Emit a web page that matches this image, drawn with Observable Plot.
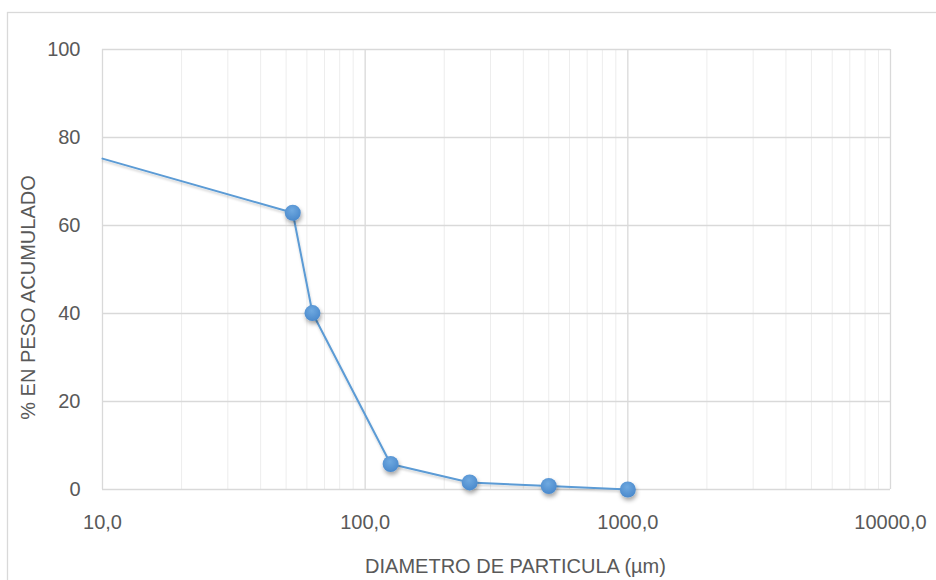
<!DOCTYPE html>
<html>
<head>
<meta charset="utf-8">
<script src="https://cdn.jsdelivr.net/npm/d3@7"></script>
<script src="https://cdn.jsdelivr.net/npm/@observablehq/plot@0.6"></script>
<style>
  html, body { margin: 0; padding: 0; background: #fff; }
  #chart { width: 936px; height: 580px; overflow: hidden; }
</style>
</head>
<body>
<div id="chart"></div>
<script>
// Granulometría: diámetro de partícula (µm) vs % en peso acumulado
const diametro = [10, 53, 63, 125, 250, 500, 1000];
const acumulado = [75.2, 62.9, 40.1, 5.8, 1.6, 0.8, 0];
// the curve enters the frame at 10 µm; markers only on sieve sizes
const conMarcador = [false, true, true, true, true, true, true];

const xTicks = [10, 100, 1000, 10000];
const yTicks = [0, 20, 40, 60, 80, 100];
const xTitle = "DIAMETRO DE PARTICULA (µm)";
const yTitle = "% EN PESO ACUMULADO";

const data = diametro.map((d, i) => ({d, p: acumulado[i], m: conMarcador[i]}));
const xDomain = [10, 10000];
const minorX = d3.scaleLog().domain(xDomain).ticks().filter(v => !xTicks.includes(v));

const fmt = v => v.toFixed(1).replace(".", ",");
const ink = "#595959";

const chart = Plot.plot({
  width: 936,
  height: 580,
  marginLeft: 102,
  marginRight: 46,
  marginTop: 49,
  marginBottom: 91,
  style: {fontFamily: "'Liberation Sans', Arial, sans-serif", fontSize: "20px", color: ink, background: "#fff"},
  x: {type: "log", domain: xDomain},
  y: {domain: [0, 100]},
  marks: [
    Plot.ruleX(minorX, {stroke: "#ededed", strokeWidth: 1}),
    Plot.ruleX(xTicks, {stroke: "#d9d9d9", strokeWidth: 1.3}),
    Plot.ruleY(yTicks, {stroke: "#d9d9d9", strokeWidth: 1.3}),
    Plot.axisX(xTicks, {tickSize: 0, tickPadding: 25, tickFormat: fmt, label: null, fill: ink, fontSize: 20}),
    Plot.axisY(yTicks, {tickSize: 0, tickPadding: 22, label: null, fill: ink, fontSize: 20}),
    Plot.line(data, {x: "d", y: "p", stroke: "#5b9bd5", strokeWidth: 2}),
    Plot.dot(data.filter(r => r.m), {x: "d", y: "p", r: 8, fill: "#5b9bd5", stroke: "none"}),
    Plot.text([xTitle], {frameAnchor: "bottom", textAnchor: "middle", lineAnchor: "middle", dx: 19, dy: 77, fill: ink, fontSize: 20}),
    Plot.text([yTitle], {frameAnchor: "left", textAnchor: "middle", lineAnchor: "middle", rotate: -90, dx: -74, dy: 28, fill: ink, fontSize: 20})
  ]
});

// shading for the line and markers
const svg = d3.select(chart);
const defs = svg.insert("defs", ":first-child");
const grad = defs.append("radialGradient").attr("id", "marker-fill")
  .attr("cx", "45%").attr("cy", "35%").attr("r", "65%");
grad.append("stop").attr("offset", "0%").attr("stop-color", "#6fa9e0");
grad.append("stop").attr("offset", "100%").attr("stop-color", "#4a89cc");
const sh = defs.append("filter").attr("id", "marker-shadow")
  .attr("x", "-50%").attr("y", "-50%").attr("width", "200%").attr("height", "200%");
sh.append("feDropShadow").attr("dx", 1).attr("dy", 3).attr("stdDeviation", 2)
  .attr("flood-color", "#000").attr("flood-opacity", 0.35);
const shl = defs.append("filter").attr("id", "line-shadow")
  .attr("x", "-10%").attr("y", "-10%").attr("width", "120%").attr("height", "130%");
shl.append("feDropShadow").attr("dx", 0.5).attr("dy", 2).attr("stdDeviation", 1.2)
  .attr("flood-color", "#000").attr("flood-opacity", 0.18);

svg.selectAll('g[aria-label="dot"] circle').attr("fill", "url(#marker-fill)");
svg.select('g[aria-label="dot"]').attr("filter", "url(#marker-shadow)");
svg.select('g[aria-label="line"]').attr("filter", "url(#line-shadow)");

// chart area border
svg.append("rect")
  .attr("x", 7.5).attr("y", 12.5).attr("width", 960).attr("height", 600)
  .attr("fill", "none").attr("stroke", "#d9d9d9").attr("stroke-width", 1.3);

document.getElementById("chart").appendChild(chart);
</script>
</body>
</html>
